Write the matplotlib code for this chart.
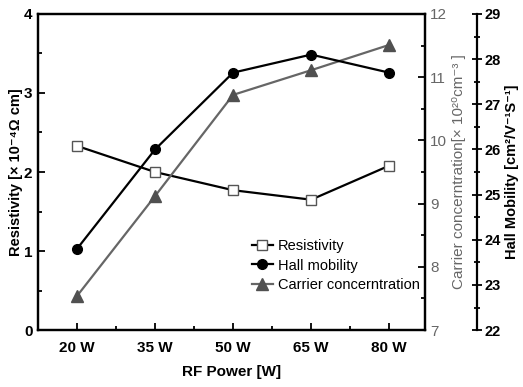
import numpy as np
import matplotlib.pyplot as plt
from matplotlib.ticker import MultipleLocator

plt.rcParams['font.family'] = ['Liberation Sans', 'DejaVu Sans']

power = ['20 W', '35 W', '50 W', '65 W', '80 W']
resistivity = [2.33, 2.00, 1.77, 1.65, 2.08]       # x 10^-4 ohm cm
hall_mobility = [23.8, 26.0, 27.7, 28.1, 27.7]     # cm2/Vs
carrier_conc = [7.54, 9.12, 10.72, 11.11, 11.51]   # x 10^20 cm^-3

x = np.arange(len(power))
grey = '#666666'

fig = plt.figure(figsize=(5.23, 3.87), dpi=100)
ax = fig.add_axes([0.0727, 0.147, 0.74, 0.817])
ax2 = ax.twinx()
ax3 = ax.twinx()

l1, = ax.plot(x, resistivity, '-s', color='black', lw=1.6, ms=7,
              mfc='white', mec='#555555', mew=1.0, label='Resistivity')
l2, = ax3.plot(x, hall_mobility, '-o', color='black', lw=1.6, ms=7,
               label='Hall mobility')
l3, = ax2.plot(x, carrier_conc, '-^', color=grey, lw=1.6, ms=8,
               mfc='#505050', mec='#505050', label='Carrier concerntration')

ax.set_xlim(-0.5, 4.46)
ax.set_xticks(x)
ax.set_xticklabels(power)
ax.xaxis.set_minor_locator(MultipleLocator(0.5))
ax.set_ylim(0, 4)
ax.yaxis.set_major_locator(MultipleLocator(1))
ax.yaxis.set_minor_locator(MultipleLocator(0.5))

ax2.set_ylim(7, 12)
ax2.yaxis.set_major_locator(MultipleLocator(1))
ax2.yaxis.set_minor_locator(MultipleLocator(0.5))

ax3.set_ylim(22, 29)
ax3.yaxis.set_major_locator(MultipleLocator(1))
ax3.yaxis.set_minor_locator(MultipleLocator(0.5))
ax3.spines['right'].set_position(('axes', 1.135))
for s in ['top', 'left', 'bottom']:
    ax3.spines[s].set_visible(False)

for a in (ax, ax2, ax3):
    for s in a.spines.values():
        s.set_linewidth(1.6)

ax.tick_params(axis='both', which='both', direction='in', width=1.3)
ax.tick_params(which='major', length=5, labelsize=11)
ax.tick_params(which='minor', length=3)
ax.tick_params(axis='x', pad=8)
ax.tick_params(axis='y', pad=4)
for lab in ax.get_xticklabels() + ax.get_yticklabels():
    lab.set_fontweight('bold')

ax2.tick_params(which='both', direction='in', width=1.3, labelsize=11,
                labelcolor=grey)
ax2.tick_params(which='major', length=5)
ax2.tick_params(which='minor', length=3)

ax3.tick_params(which='both', direction='inout', width=1.3, labelsize=10.5,
                pad=2)
ax3.tick_params(which='major', length=7)
ax3.tick_params(which='minor', length=4)
for lab in ax3.get_yticklabels():
    lab.set_fontweight('bold')

ax.set_xlabel('RF Power [W]', fontsize=11, fontweight='bold', labelpad=7)
ax.set_ylabel('Resistivity [× 10⁻⁴Ω cm]', fontsize=10.5,
              fontweight='bold', labelpad=1)
ax2.set_ylabel('Carrier concerntration[× 10²⁰cm⁻³ ]',
               fontsize=11, color=grey, labelpad=4)
ax3.set_ylabel('Hall Mobility [cm²/V⁻¹S⁻¹]', fontsize=10.5,
               fontweight='bold', ha='center', va='center')
ax3.yaxis.set_label_coords(1.225, 0.5)

ax.legend(handles=[l1, l2, l3], loc='lower right', bbox_to_anchor=(1.02, 0.08),
          frameon=False, fontsize=10.5, handlelength=1.5, handletextpad=0.3,
          labelspacing=0.35)

fig.savefig('out.png', dpi=100)
